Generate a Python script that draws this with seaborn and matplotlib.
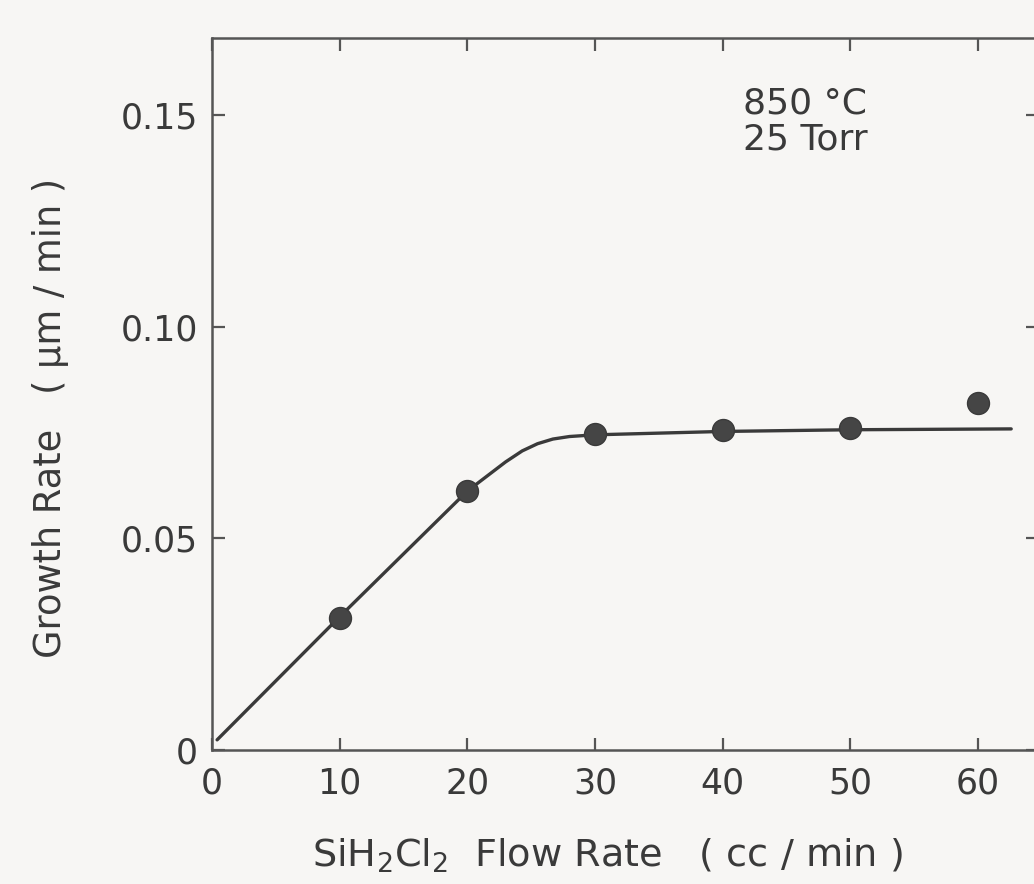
import matplotlib
matplotlib.use("Agg")
import matplotlib.pyplot as plt
import seaborn as sns
import pandas as pd

# Measured data points
flow_rate = [10, 20, 30, 40, 50, 60]
growth_rate = [0.0312, 0.0612, 0.0748, 0.0757, 0.0761, 0.0821]

# Fitted curve
curve_x = [0.4, 10, 20, 23, 24.3, 25.5, 26.7, 28, 30, 40, 50, 62.6]
curve_y = [0.0024, 0.0315, 0.0612, 0.0681, 0.0707, 0.0724, 0.0735, 0.0741, 0.0745,
           0.0753, 0.0757, 0.0759]

x_ticks = [0, 10, 20, 30, 40, 50, 60]
y_ticks = [0, 0.05, 0.10, 0.15]
y_tick_labels = ["0", "0.05", "0.10", "0.15"]

sns.set_theme(style="white")
plt.rcParams["font.family"] = ["DejaVu Sans"]
plt.rcParams["mathtext.fontset"] = "dejavusans"

bg = "#f7f6f4"
ink = "#3a3a3a"
fig = plt.figure(figsize=(10.34, 8.84), dpi=100, facecolor=bg)
ax = fig.add_axes([212 / 1034, 1 - 750 / 884, 826 / 1034, 712 / 884])
ax.set_facecolor(bg)

pts = pd.DataFrame({"x": flow_rate, "y": growth_rate})
crv = pd.DataFrame({"x": curve_x, "y": curve_y})

sns.lineplot(data=crv, x="x", y="y", ax=ax, color=ink, linewidth=2.4, sort=False)
sns.scatterplot(data=pts, x="x", y="y", ax=ax, color="#454545", s=250,
                edgecolor="#3a3a3a", linewidth=1, zorder=5)

ax.set_xlim(0, 64.7)
ax.set_ylim(0, 0.1683)
ax.set_xticks(x_ticks)
ax.set_xticklabels([str(v) for v in x_ticks])
ax.set_yticks(y_ticks)
ax.set_yticklabels(y_tick_labels)

ax.tick_params(axis="both", which="major", direction="in", length=9, width=1.6,
               colors="#555555", labelcolor=ink, labelsize=25,
               top=True, right=True, bottom=True, left=True)
ax.tick_params(axis="x", pad=12)
ax.tick_params(axis="y", pad=10)

for side, sp in ax.spines.items():
    sp.set_color("#555555")
    sp.set_linewidth(1.8)
    sp.set_visible(True)

ax.set_xlabel(r"SiH$_\mathregular{2}$Cl$_\mathregular{2}$  Flow Rate   ( cc / min )",
              fontsize=27.5, color=ink, va="center")
ax.xaxis.set_label_coords(0.479, -0.148)
ax.set_ylabel("Growth Rate   ( µm / min )", fontsize=26.5, color=ink, va="center")
ax.yaxis.set_label_coords(-0.196, 0.466)

ax.text(41.6, 0.1568, "850 °C\n25 Torr", fontsize=26, color=ink,
        ha="left", va="top", linespacing=1.05)

fig.savefig("out.png", dpi=100, facecolor=bg)
